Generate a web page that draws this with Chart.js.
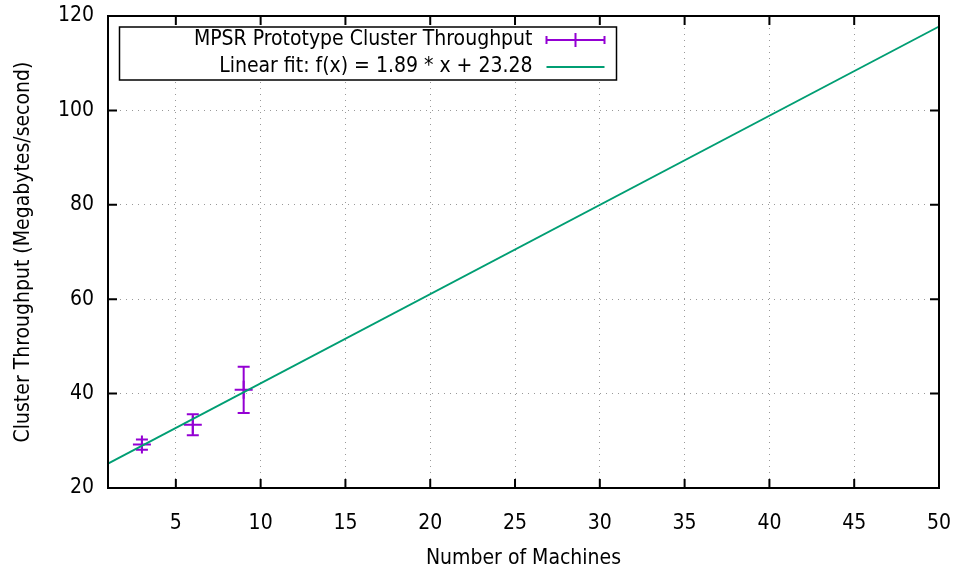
<!DOCTYPE html>
<html>
<head>
<meta charset="utf-8">
<title>Cluster Throughput</title>
<script src="https://cdn.jsdelivr.net/npm/chart.js@4/dist/chart.umd.min.js"></script>
<style>
    html, body { margin: 0; padding: 0; background: #fff; }
    #wrap { width: 956px; height: 567px; }
</style>
</head>
<body>
<div id="wrap"><canvas id="throughputChart" width="956" height="567"></canvas></div>
<script>
// measured throughput per cluster size, with its spread
const machines = [3, 6, 9];
const throughput = [29.2, 33.4, 40.8];
const throughputErr = [1.1, 2.2, 4.9];

// least squares fit shown in the key
const fitSlope = 1.89;
const fitIntercept = 23.28;
const fitRange = [1, 50];

const xTicks = [5, 10, 15, 20, 25, 30, 35, 40, 45, 50];
const yTicks = [20, 40, 60, 80, 100, 120];

const seriesLabels = [
    'MPSR Prototype Cluster Throughput',
    'Linear fit: f(x) = 1.89 * x + 23.28'
];

const VIOLET = '#9400d3';
const GREEN = '#009e73';
const FONT = "'DejaVu Sans Condensed', 'DejaVu Sans', sans-serif";
const TICK = 9;   // inward tick length
const CAP = 6;    // half width of error bar caps

Chart.defaults.font.family = FONT;
Chart.defaults.font.size = 21;
Chart.defaults.color = '#000';

// vertical error bars with caps, under the datasets
const errorBars = {
    id: 'errorBars',
    beforeDatasetsDraw(chart) {
        const { ctx, scales: { x, y } } = chart;
        ctx.save();
        ctx.strokeStyle = VIOLET;
        ctx.lineWidth = 2;
        ctx.beginPath();
        machines.forEach((m, i) => {
            const px = x.getPixelForValue(m);
            const top = y.getPixelForValue(throughput[i] + throughputErr[i]);
            const bot = y.getPixelForValue(throughput[i] - throughputErr[i]);
            ctx.moveTo(px, top); ctx.lineTo(px, bot);
            ctx.moveTo(px - CAP, top); ctx.lineTo(px + CAP, top);
            ctx.moveTo(px - CAP, bot); ctx.lineTo(px + CAP, bot);
        });
        ctx.stroke();
        ctx.restore();
    }
};

// closed border with inward ticks on all four sides, then the key box
const frameAndKey = {
    id: 'frameAndKey',
    afterDatasetsDraw(chart) {
        const { ctx, chartArea: a, scales: { x, y } } = chart;
        ctx.save();
        ctx.strokeStyle = '#000';
        ctx.lineWidth = 2;
        ctx.strokeRect(a.left, a.top, a.right - a.left, a.bottom - a.top);
        ctx.beginPath();
        xTicks.forEach(v => {
            const px = x.getPixelForValue(v);
            ctx.moveTo(px, a.bottom); ctx.lineTo(px, a.bottom - TICK);
            ctx.moveTo(px, a.top); ctx.lineTo(px, a.top + TICK);
        });
        yTicks.forEach(v => {
            const py = y.getPixelForValue(v);
            ctx.moveTo(a.left, py); ctx.lineTo(a.left + TICK, py);
            ctx.moveTo(a.right, py); ctx.lineTo(a.right - TICK, py);
        });
        ctx.stroke();

        // key
        const bx = a.left + 11.5, by = a.top + 11, bw = 497, bh = 53;
        ctx.fillStyle = '#fff';
        ctx.fillRect(bx, by, bw, bh);
        ctx.lineWidth = 1.5;
        ctx.strokeRect(bx, by, bw, bh);

        const textRight = bx + bw - 84;
        const s0 = bx + bw - 70, s1 = bx + bw - 12, sm = (s0 + s1) / 2;
        const rows = [by + 13, by + 40];
        ctx.font = '21px ' + FONT;
        ctx.textAlign = 'right';
        ctx.textBaseline = 'middle';
        ctx.fillStyle = '#000';
        seriesLabels.forEach((t, i) => ctx.fillText(t, textRight, rows[i]));

        ctx.lineWidth = 2;
        ctx.strokeStyle = VIOLET;
        ctx.beginPath();
        ctx.moveTo(s0, rows[0]); ctx.lineTo(s1, rows[0]);
        ctx.moveTo(s0, rows[0] - 4); ctx.lineTo(s0, rows[0] + 4);
        ctx.moveTo(s1, rows[0] - 4); ctx.lineTo(s1, rows[0] + 4);
        ctx.moveTo(sm, rows[0] - 7); ctx.lineTo(sm, rows[0] + 7);
        ctx.stroke();

        ctx.strokeStyle = GREEN;
        ctx.beginPath();
        ctx.moveTo(s0, rows[1]); ctx.lineTo(s1, rows[1]);
        ctx.stroke();
        ctx.restore();
    }
};

const ctx = document.getElementById('throughputChart').getContext('2d');
new Chart(ctx, {
    type: 'scatter',
    data: {
        datasets: [
            {
                label: seriesLabels[0],
                data: machines.map((m, i) => ({ x: m, y: throughput[i] })),
                pointStyle: 'cross',
                pointRadius: 9,
                pointHoverRadius: 9,
                borderColor: VIOLET,
                backgroundColor: VIOLET,
                borderWidth: 2,
                order: 1
            },
            {
                label: seriesLabels[1],
                data: fitRange.map(v => ({ x: v, y: fitSlope * v + fitIntercept })),
                showLine: true,
                pointRadius: 0,
                borderColor: GREEN,
                borderWidth: 1.8,
                order: 0
            }
        ]
    },
    plugins: [errorBars, frameAndKey],
    options: {
        responsive: false,
        animation: false,
        events: [],
        layout: { padding: { top: 16, right: 17, left: 0, bottom: 0 } },
        plugins: {
            legend: { display: false },
            tooltip: { enabled: false }
        },
        scales: {
            x: {
                type: 'linear',
                min: 1,
                max: 50,
                afterBuildTicks: s => { s.ticks = xTicks.map(v => ({ value: v })); },
                afterFit: s => { s.height = 79; s.paddingLeft = 0; s.paddingRight = 0; },
                ticks: { padding: 23, maxRotation: 0 },
                grid: { color: '#999', lineWidth: 1, drawTicks: false },
                border: { display: false, dash: [1, 5] },
                title: {
                    display: true,
                    text: 'Number of Machines',
                    font: { size: 21, lineHeight: 0.8 },
                    padding: { top: 0, bottom: 0 }
                }
            },
            y: {
                type: 'linear',
                min: 20,
                max: 120,
                afterBuildTicks: s => { s.ticks = yTicks.map(v => ({ value: v })); },
                afterFit: s => { s.width = 108; s.paddingTop = 0; s.paddingBottom = 0; },
                ticks: { padding: 14 },
                grid: { color: '#999', lineWidth: 1, drawTicks: false },
                border: { display: false, dash: [1, 5] },
                title: {
                    display: true,
                    text: 'Cluster Throughput (Megabytes/second)',
                    font: { size: 21, lineHeight: 1 },
                    padding: { top: 13, bottom: 0 }
                }
            }
        }
    }
});
</script>
</body>
</html>
